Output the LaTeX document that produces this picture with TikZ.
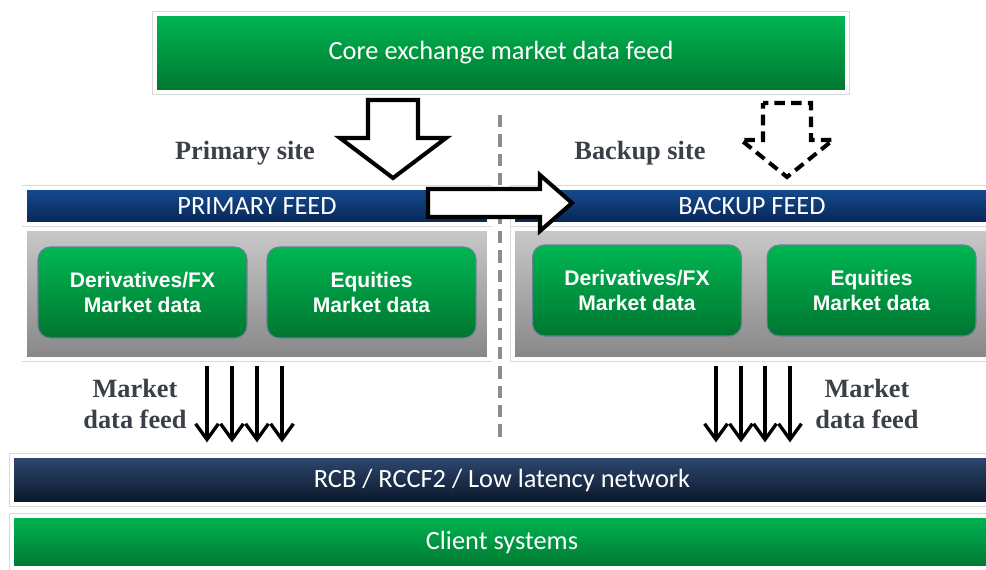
\documentclass[tikz,border=0pt]{standalone}
\usepackage{fontspec}
\setmainfont{Carlito}
\newfontfamily\boxfont{Liberation Sans}
\newfontfamily\sitefont{Liberation Serif}
\usetikzlibrary{arrows.meta,shadows}
\definecolor{vertclair}{RGB}{0,182,82}
\definecolor{vertfonce}{RGB}{0,118,48}
\definecolor{bleuclair}{RGB}{20,75,145}
\definecolor{bleufonce}{RGB}{8,38,84}
\definecolor{reseauclair}{RGB}{45,72,112}
\definecolor{reseaufonce}{RGB}{10,22,40}
\definecolor{grisclair}{RGB}{200,200,200}
\definecolor{grisfonce}{RGB}{135,135,135}
\definecolor{texte}{RGB}{58,63,72}
\tikzset{
  bande/.style={draw=white, line width=2.5pt, inner sep=0pt, text=white,
    drop shadow={opacity=0.3, shadow xshift=0.6pt, shadow yshift=-0.9pt, shadow scale=1.004},
    preaction={draw=gray!30, line width=3.4pt},
    font=\fontsize{15}{17}\selectfont},
  vert/.style={bande, top color=vertclair, bottom color=vertfonce},
  entete/.style={bande, top color=bleuclair, bottom color=bleufonce, font=\fontsize{15}{17}\selectfont},
  corps/.style={bande, top color=grisclair, bottom color=grisfonce},
  marche/.style={draw=bleufonce!60, line width=0.6pt, rounded corners=7pt, inner sep=0pt,
    top color=vertclair, bottom color=vertfonce, text=white, align=center,
    minimum width=4.18cm, minimum height=1.82cm,
    font=\boxfont\bfseries\fontsize{12}{13.8}\selectfont},
  site/.style={text=texte, align=center, font=\sitefont\bfseries\fontsize{15}{18}\selectfont},
  fleche/.style={draw=black, fill=white, line width=2.3pt, miter limit=4},
  flux/.style={line width=1.9pt, -{Straight Barb[length=9pt,width=13pt]}},
  separation/.style={draw=gray!90, line width=2.2pt, dash pattern=on 7pt off 4pt}
}
\begin{document}
\begin{tikzpicture}[x=0.02cm, y=-0.02cm]
\useasboundingbox (0,0) rectangle (986,569);
\clip (0,0) rectangle (986,569);
% Source
\node[vert, minimum width=13.84cm, minimum height=1.56cm] (core) at (501,53) {Core exchange market data feed};
% Separation
\draw[separation] (500,115) -- (500,442);
% Site principal
\node[entete, minimum width=9.3cm, minimum height=0.72cm] (phead) at (257,206) {PRIMARY FEED};
\node[corps, minimum width=9.3cm, minimum height=2.6cm] (pbody) at (257,294) {};
\node[marche] (pderiv) at (142.5,292.5) {Derivatives/FX\\Market data};
\node[marche] (pequi) at (371.5,292.5) {Equities\\Market data};
% Site de secours
\node[entete, minimum width=9.56cm, minimum height=0.72cm] (bhead) at (752,206) {BACKUP FEED};
\node[corps, minimum width=9.56cm, minimum height=2.6cm] (bbody) at (752,294) {};
\node[marche] (bderiv) at (637,290.5) {Derivatives/FX\\Market data};
\node[marche] (bequi) at (871.5,290.5) {Equities\\Market data};
% Etiquettes
\node[site] (lprim) at (245,153) {Primary site};
\node[site] (lback) at (640,153) {Backup site};
\node[site] (lfluxp) at (135,404) {Market\\data feed};
\node[site] (lfluxb) at (867,404) {Market\\data feed};
% Grosses fleches
\draw[fleche] (368,100) -- (418,100) -- (418,138) -- (446,138) -- (393,178) -- (340,138) -- (368,138) -- cycle;
\draw[fleche, dash pattern=on 6pt off 3.5pt, dash phase=3pt] (763,103) -- (811,103) -- (811,140) -- (833,140) -- (787,177) -- (741,140) -- (763,140) -- cycle;
\draw[fleche] (428,189) -- (540,189) -- (540,175) -- (572,203) -- (540,231) -- (540,217) -- (428,217) -- cycle;
% Reseau et clients
\node[bande, top color=reseauclair, bottom color=reseaufonce, minimum width=19.6cm, minimum height=0.96cm] (net) at (502,480) {RCB / RCCF2 / Low latency network};
\node[vert, minimum width=19.6cm, minimum height=1.04cm] (client) at (502,542) {Client systems};
% Flux
\foreach \x in {207,232,257,282}
  \draw[flux, shorten <=3pt, shorten >=6.5pt] (\x,0 |- pbody.south) -- (\x,0 |- net.north);
\foreach \x in {716,741,765,790}
  \draw[flux, shorten <=3pt, shorten >=6.5pt] (\x,0 |- bbody.south) -- (\x,0 |- net.north);
\end{tikzpicture}
\end{document}
